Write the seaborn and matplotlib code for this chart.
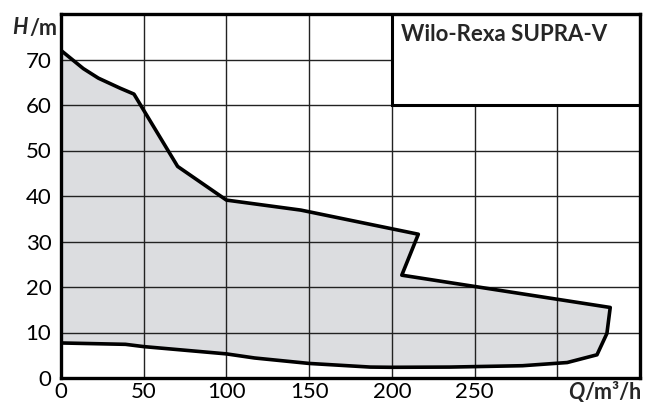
import matplotlib
matplotlib.use("Agg")
import matplotlib.pyplot as plt
from matplotlib.patches import Rectangle
import seaborn as sns

# operating range outline (Q in m3/h, H in m), clockwise from top-left
q_top = [0, 13.5, 22.6, 35.7, 44.1, 70.5, 100, 145, 216, 206, 332]
h_top = [72, 68, 65.9, 63.7, 62.4, 46.5, 39.1, 36.9, 31.6, 22.6, 15.5]
q_bottom = [330, 324, 306, 279, 235, 200, 187, 150, 117, 100, 50, 39, 0]
h_bottom = [9.8, 5.1, 3.4, 2.7, 2.4, 2.35, 2.4, 3.2, 4.4, 5.3, 6.9, 7.4, 7.7]

x_ticks = [0, 50, 100, 150, 200, 250, 300, 350]
x_labels = ['0', '50', '100', '150', '200', '250', '', '']
y_ticks = [0, 10, 20, 30, 40, 50, 60, 70, 80]
y_labels = ['0', '10', '20', '30', '40', '50', '60', '70', '']
title = 'Wilo-Rexa SUPRA-V'

q = q_top + q_bottom + [q_top[0]]
h = h_top + h_bottom + [h_top[0]]

sns.set_style('white')
plt.rcParams['font.family'] = ['Lato', 'DejaVu Sans']

fig = plt.figure(figsize=(6.52, 4.03), dpi=100)
ax = fig.add_axes([61 / 652, 25 / 403, 579 / 652, 364 / 403])

ax.fill(q, h, color='#dcdde0', zorder=1)
sns.lineplot(x=q, y=h, sort=False, estimator=None, color='black',
             linewidth=2.6, ax=ax, zorder=4)

ax.set_xlim(0, 350)
ax.set_ylim(0, 80)
ax.set_xticks(x_ticks)
ax.set_xticklabels(x_labels)
ax.set_yticks(y_ticks)
ax.set_yticklabels(y_labels)
ax.tick_params(length=0, labelsize=16, colors='black')
ax.tick_params(axis='x', pad=3)
ax.tick_params(axis='y', pad=7)
ax.grid(True, color='#222222', linewidth=1.0, zorder=2)
ax.set_axisbelow(False)
for s in ax.spines.values():
    s.set_linewidth(2.4)
    s.set_color('black')
    s.set_zorder(6)
ax.set_xlabel('')
ax.set_ylabel('')

# title box in the top right
ax.add_patch(Rectangle((200, 60), 150, 20, facecolor='white', edgecolor='black',
                       linewidth=2.2, zorder=5))
ax.text(205.5, 75.4, title, fontsize=16, fontweight='bold', ha='left',
        va='center', zorder=6)

# axis names
fig.text(12 / 652, 1 - 28 / 403, 'H', fontsize=15.5, fontweight='bold',
         style='italic', va='center', ha='left')
fig.text(29 / 652, 1 - 28 / 403, '/m', fontsize=15.5, fontweight='bold',
         va='center', ha='left')
fig.text(584 / 652, 1 - 392 / 403, 'Q', fontsize=15.5, fontweight='bold',
         style='italic', va='center', ha='right')
fig.text(584 / 652, 1 - 392 / 403, '/m³/h', fontsize=15.5, fontweight='bold',
         va='center', ha='left')

fig.savefig('out.png', dpi=100)
